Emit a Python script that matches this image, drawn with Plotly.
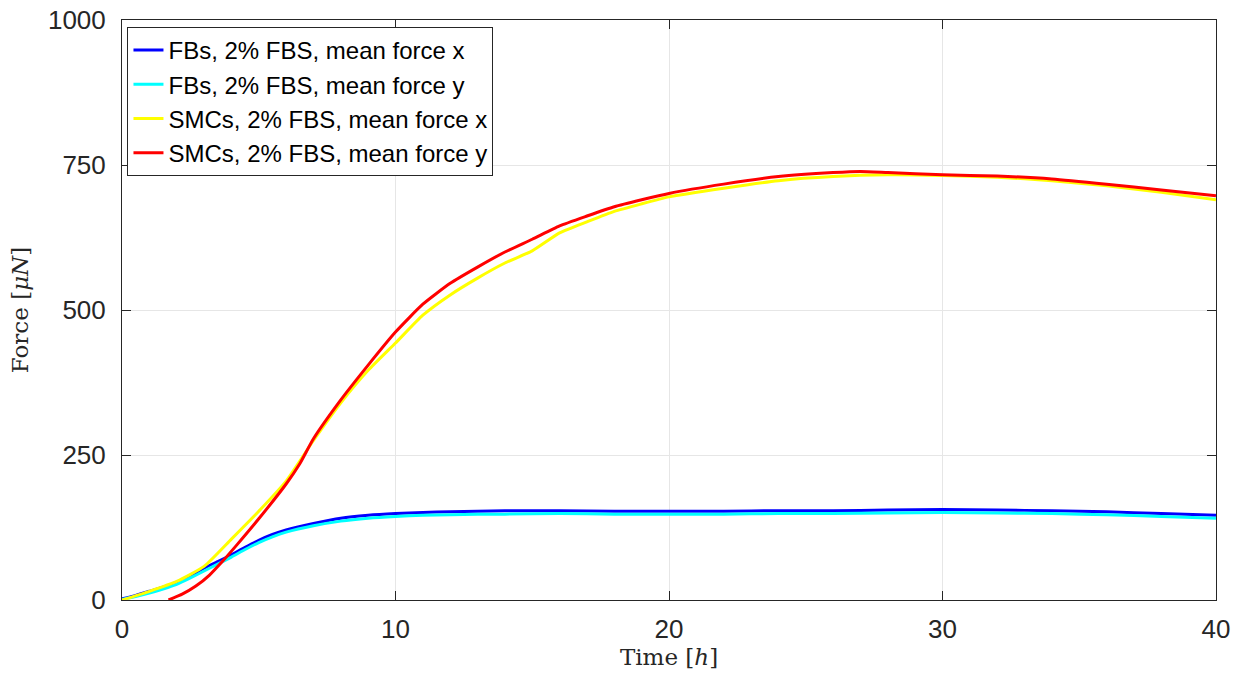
import plotly.graph_objects as go

t_fb = [0, 0.5, 1, 1.5, 2, 2.5, 3, 3.5, 4, 4.5, 5, 5.5, 6, 7, 8, 9, 10, 11, 12, 13, 14, 16, 18, 20, 22, 24, 26, 28, 30, 32, 34, 36, 38, 40]
fb_x = [2, 8, 15, 22, 31, 42, 55, 66, 78, 91, 103, 113, 121, 132, 141, 146, 149, 151, 152, 153, 154, 154, 153, 153, 153, 154, 154, 155, 156, 155, 154, 152, 149, 146]
fb_y = [1, 6, 12, 19, 27, 38, 50, 62, 74, 87, 99, 109, 117, 128, 136, 141, 144, 146, 147, 148, 148, 149, 148, 148, 148, 149, 149, 150, 151, 150, 149, 147, 144, 141]

t_smc_x = [0, 1, 2, 3, 4, 5, 6, 7, 8, 9, 10, 11, 12, 13, 14, 15, 16, 17, 18, 19, 20, 22, 24, 26, 28, 30, 32, 34, 36, 38, 40]
smc_x = [0, 15, 32, 58, 105, 153, 205, 275, 340, 396, 443, 491, 526, 555, 581, 602, 633, 652, 670, 683, 695, 710, 723, 730, 733, 732, 729, 723, 714, 703, 690]

t_smc_y = [1.7, 2.2, 2.7, 3.2, 3.7, 4.2, 5, 6, 6.5, 7, 8, 9, 10, 11, 12, 13, 14, 15, 16, 17, 18, 19, 20, 22, 24, 26, 27, 28, 30, 32, 34, 36, 38, 40]
smc_y = [0, 10, 24, 43, 68, 95, 140, 200, 235, 278, 345, 405, 462, 510, 546, 574, 600, 622, 645, 662, 678, 690, 701, 717, 730, 737, 739, 737, 733, 731, 726, 717, 707, 697]

fig = go.Figure()
series = [
    (t_fb, fb_x, "#0000ff", "FBs, 2% FBS, mean force x"),
    (t_fb, fb_y, "#00ffff", "FBs, 2% FBS, mean force y"),
    (t_smc_x, smc_x, "#ffff00", "SMCs, 2% FBS, mean force x"),
    (t_smc_y, smc_y, "#ff0000", "SMCs, 2% FBS, mean force y"),
]
for tx, yy, col, name in series:
    fig.add_trace(go.Scatter(x=tx, y=yy, mode="lines", name=name,
                             line=dict(color=col, width=3, shape="spline", smoothing=0.5)))

axis_common = dict(
    showline=True, linecolor="#262626", linewidth=1, mirror="ticks",
    ticks="inside", ticklen=9, tickcolor="#262626", automargin=False,
    showgrid=True, gridcolor="#e6e6e6", gridwidth=1, zeroline=False,
    tickfont=dict(family="Liberation Sans, Arial, sans-serif", size=26, color="#262626"),
)
fig.update_xaxes(range=[0, 40], tickvals=[0, 10, 20, 30, 40], ticklabelstandoff=6,
                 title=dict(text="Time [<i>h</i>]", standoff=2,
                            font=dict(family="DejaVu Serif, serif", size=23, color="#262626")),
                 **axis_common)
fig.update_yaxes(range=[0, 1000], tickvals=[0, 250, 500, 750, 1000], ticklabelstandoff=10,
                 title=dict(text="Force [<i>μN</i>]", standoff=12,
                            font=dict(family="DejaVu Serif, serif", size=23, color="#262626")),
                 **axis_common)
fig.update_layout(
    width=1239, height=675,
    margin=dict(l=122, r=23, t=20, b=75, autoexpand=False),
    plot_bgcolor="white", paper_bgcolor="white",
    legend=dict(x=0.005, y=0.988, xanchor="left", yanchor="top",
                bgcolor="white", bordercolor="#262626", borderwidth=1,
                font=dict(family="Liberation Sans, Arial, sans-serif", size=24, color="black"),
                tracegroupgap=0, itemwidth=30),
    showlegend=True,
)
fig.write_html("out.html")
